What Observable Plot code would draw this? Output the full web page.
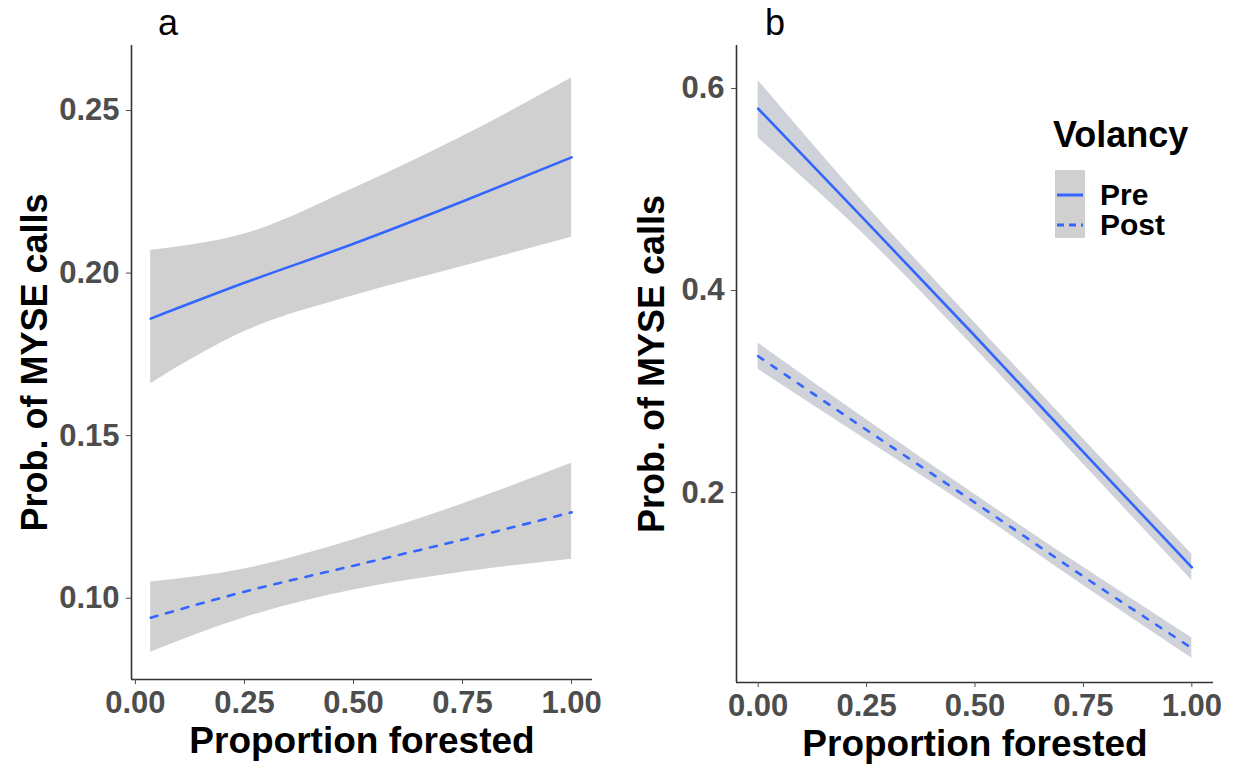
<!DOCTYPE html>
<html>
<head>
<meta charset="utf-8">
<script src="https://cdn.jsdelivr.net/npm/d3@7"></script>
<script src="https://cdn.jsdelivr.net/npm/@observablehq/plot@0.6"></script>
<style>
  html, body { margin: 0; padding: 0; background: #fff; }
  #wrap { position: relative; width: 1233px; height: 775px; font-family: "Liberation Sans", Arial, sans-serif; }
  .abs { position: absolute; white-space: nowrap; line-height: 1; }
</style>
</head>
<body>
<div id="wrap">
  <div id="pa" class="abs" style="left:0;top:0"></div>
  <div id="pb" class="abs" style="left:615px;top:0"></div>
  <div class="abs" style="left:158px;top:5px;font-size:36px;">a</div>
  <div class="abs" style="left:765px;top:5px;font-size:36px;">b</div>
  <div class="abs" style="left:1053px;top:117px;font-size:36px;font-weight:bold;">Volancy</div>
  <svg class="abs" style="left:1055px;top:170px" width="30" height="68">
    <rect x="0" y="0" width="30" height="68" fill="#d0d0d0"></rect>
    <line x1="2" x2="28" y1="25" y2="25" stroke="#3366FF" stroke-width="3"></line>
    <line x1="2" x2="28" y1="55" y2="55" stroke="#3366FF" stroke-width="3" stroke-dasharray="7,5"></line>
  </svg>
  <div class="abs" style="left:1100px;top:180px;font-size:30px;font-weight:bold;">Pre</div>
  <div class="abs" style="left:1100px;top:210px;font-size:30px;font-weight:bold;">Post</div>
</div>
<script>
// ---- data ----
const groups = ["Pre", "Post"];
const xTicks = [0, 0.25, 0.5, 0.75, 1];
const yTicksA = [0.10, 0.15, 0.20, 0.25];
const yTicksB = [0.2, 0.4, 0.6];

// panel a
const xA = [0.035, 0.25, 0.5, 0.75, 1.0];
const preA = [0.186, 0.197, 0.209, 0.222, 0.2356];
const preALo = [0.166, 0.182, 0.193, 0.202, 0.211];
const preAHi = [0.207, 0.212, 0.226, 0.242, 0.260];
const postA = [0.094, 0.102, 0.110, 0.118, 0.1264];
const postALo = [0.0834, 0.094, 0.1025, 0.108, 0.112];
const postAHi = [0.105, 0.109, 0.118, 0.129, 0.1415];

// panel b
const xB = [0, 0.25, 0.5, 0.75, 1.0];
const preB = [0.580, 0.468, 0.355, 0.240, 0.126];
const preBLo = [0.551, 0.453, 0.343, 0.228, 0.113];
const preBHi = [0.608, 0.484, 0.368, 0.253, 0.139];
const postB = [0.335, 0.262, 0.190, 0.117, 0.046];
const postBLo = [0.322, 0.252, 0.182, 0.108, 0.036];
const postBHi = [0.348, 0.272, 0.198, 0.126, 0.056];

function rows(xs, ys, lo, hi, g) {
  return xs.map((x, i) => ({x, y: ys[i], lo: lo[i], hi: hi[i], group: g}));
}
const dataA = [...rows(xA, preA, preALo, preAHi, groups[0]), ...rows(xA, postA, postALo, postAHi, groups[1])];
const dataB = [...rows(xB, preB, preBLo, preBHi, groups[0]), ...rows(xB, postB, postBLo, postBHi, groups[1])];

const BLUE = "#3366FF";
const fmt2 = d3.format(".2f");
const fmt1 = d3.format(".1f");

function panel({data, width, marginLeft, marginRight, marginBottom, xDomain, yDomain, yTicks, yFmt, band, dash, titleDx}) {
  return Plot.plot({
    width, height: 775,
    marginLeft, marginRight, marginTop: 45, marginBottom,
    style: {fontFamily: "'Liberation Sans', Arial, sans-serif", fontWeight: "bold", color: "#4d4d4d", background: "transparent", overflow: "visible"},
    x: {domain: xDomain},
    y: {domain: yDomain},
    marks: [
      Plot.areaY(data, {x: "x", y1: "lo", y2: "hi", z: "group", fill: band, curve: "monotone-x"}),
      Plot.line(data.filter(d => d.group === "Pre"), {x: "x", y: "y", stroke: BLUE, strokeWidth: 2.6, curve: "monotone-x"}),
      Plot.line(data.filter(d => d.group === "Post"), {x: "x", y: "y", stroke: BLUE, strokeWidth: 2.6, strokeDasharray: dash, curve: "monotone-x"}),
      Plot.ruleX([xDomain[0]], {stroke: "#333", strokeWidth: 1.6}),
      Plot.ruleY([yDomain[0]], {stroke: "#333", strokeWidth: 1.6}),
      Plot.axisX({ticks: xTicks, tickFormat: fmt2, tickSize: 5, tickPadding: 6, fontSize: 31, label: null}),
      Plot.axisY({ticks: yTicks, tickFormat: yFmt, tickSize: 5, tickPadding: 7, fontSize: 31, label: null}),
      Plot.text(["Prob. of MYSE calls"], {text: d => d, frameAnchor: "left", textAnchor: "middle", rotate: -90, dx: titleDx, fontSize: 36, fill: "black"}),
      Plot.text(["Proportion forested"], {text: d => d, frameAnchor: "bottom", textAnchor: "middle", dy: 73, fontSize: 37, fill: "black"})
    ]
  });
}

document.getElementById("pa").append(panel({
  data: dataA, width: 615, marginLeft: 131, marginRight: 23, marginBottom: 96,
  xDomain: [-0.009, 1.048], yDomain: [0.075, 0.270], yTicks: yTicksA, yFmt: fmt2,
  band: "#d0d0d0", dash: "7,9", titleDx: -96
}));
document.getElementById("pb").append(panel({
  data: dataB, width: 618, marginLeft: 121, marginRight: 20, marginBottom: 93,
  xDomain: [-0.05, 1.05], yDomain: [0.012, 0.6426], yTicks: yTicksB, yFmt: fmt1,
  band: "#cfd2d8", dash: "6,10", titleDx: -84
}));
</script>
</body>
</html>
